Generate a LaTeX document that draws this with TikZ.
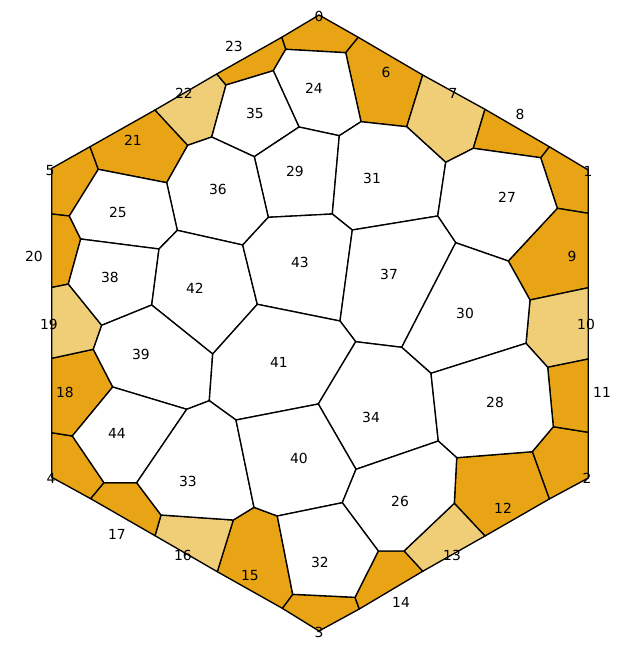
\documentclass[tikz,border=0pt]{standalone}
\usepackage{fontspec}
\setmainfont{DejaVu Sans}
\usepackage{tikz}
\definecolor{amber}{RGB}{232,164,20}
\definecolor{paleamber}{RGB}{240,206,120}

\begin{document}
\begin{tikzpicture}[x=0.75pt,y=-0.75pt,line width=1pt,line join=round,
  cell/.style={draw=black,fill=white},
  hot/.style={draw=black,fill=amber},
  warm/.style={draw=black,fill=paleamber},
  num/.style={font=\fontsize{10.4}{12}\selectfont,inner sep=0pt}]
	\useasboundingbox (0,0) rectangle (640,650);
	% boundary cells
	\filldraw[hot] (281.7,37.3) -- (319,15) -- (358.3,37.3) -- (345.7,52.7) -- (285.7,49.3) -- cycle;
	\filldraw[hot] (549.3,146.7) -- (588.3,170) -- (588.3,213.3) -- (557.3,208.3) -- (540.7,157.7) -- cycle;
	\filldraw[hot] (553.3,426.7) -- (588.3,432.3) -- (588.3,478) -- (549.3,499) -- (532.3,451.7) -- cycle;
	\filldraw[hot] (292.7,594.3) -- (355,597.3) -- (359.3,609) -- (319,631) -- (282.3,608.3) -- cycle;
	\filldraw[hot] (51.7,432.7) -- (72.3,436) -- (104,482.7) -- (90.7,498.7) -- (51.7,477.3) -- cycle;
	\filldraw[hot] (51.7,168.3) -- (90,146.7) -- (98.3,169.3) -- (69.3,216) -- (51.7,214) -- cycle;
	\filldraw[hot] (358.3,37.3) -- (422.7,75) -- (406.7,126.7) -- (361,121.7) -- (345.7,52.7) -- cycle;
	\filldraw[warm] (422.7,75) -- (485,109.3) -- (473.3,148.3) -- (445.7,162.3) -- (406.7,126.7) -- cycle;
	\filldraw[hot] (485,109.3) -- (549.3,146.7) -- (540.7,157.7) -- (473.3,148.3) -- cycle;
	\filldraw[hot] (557.3,208.3) -- (588.3,213.3) -- (588.3,287.7) -- (530,300) -- (508.3,261) -- cycle;
	\filldraw[warm] (530,300) -- (588.3,287.7) -- (588.3,359) -- (547.7,367.3) -- (526,343.3) -- cycle;
	\filldraw[hot] (547.7,367.3) -- (588.3,359) -- (588.3,432.3) -- (553.3,426.7) -- cycle;
	\filldraw[hot] (456.7,457.7) -- (532.3,451.7) -- (549.3,499) -- (485,536) -- (454.3,503.3) -- cycle;
	\filldraw[warm] (454.3,503.3) -- (485,536) -- (422.7,571.3) -- (404,551) -- cycle;
	\filldraw[hot] (378.3,551) -- (404,551) -- (422.7,571.3) -- (359.3,609) -- (355,597.3) -- cycle;
	\filldraw[hot] (233.3,520) -- (254,507.3) -- (277.3,516) -- (292.7,594.3) -- (282.3,608.3) -- (217.3,571.7) -- cycle;
	\filldraw[warm] (161,515) -- (233.3,520) -- (217.3,571.7) -- (155,535.7) -- cycle;
	\filldraw[hot] (104,482.7) -- (136.7,482.7) -- (161,515) -- (155,535.7) -- (90.7,498.7) -- cycle;
	\filldraw[hot] (51.7,358.3) -- (93.3,349.3) -- (112.7,387) -- (72.3,436) -- (51.7,432.7) -- cycle;
	\filldraw[warm] (51.7,287.3) -- (68.3,284) -- (101.7,325.3) -- (93.3,349.3) -- (51.7,358.3) -- cycle;
	\filldraw[hot] (51.7,214) -- (69.3,216) -- (80.7,239) -- (68.3,284) -- (51.7,287.3) -- cycle;
	\filldraw[hot] (90,146.7) -- (155,110) -- (187.7,145.3) -- (166.7,182.7) -- (98.3,169.3) -- cycle;
	\filldraw[warm] (155,110) -- (216.7,74) -- (226,85) -- (211.7,137) -- (187.7,145.3) -- cycle;
	\filldraw[hot] (216.7,74) -- (281.7,37.3) -- (285.7,49.3) -- (273.3,70.7) -- (226,85) -- cycle;
	% inner cells
	\filldraw[cell] (285.7,49.3) -- (345.7,52.7) -- (361,121.7) -- (339.3,135.7) -- (299,127) -- (273.3,70.7) -- cycle;
	\filldraw[cell] (226,85) -- (273.3,70.7) -- (299,127) -- (254.3,156.7) -- (211.7,137) -- cycle;
	\filldraw[cell] (254.3,156.7) -- (299,127) -- (339.3,135.7) -- (332.3,214) -- (268.3,217.3) -- cycle;
	\filldraw[cell] (187.7,145.3) -- (211.7,137) -- (254.3,156.7) -- (268.3,217.3) -- (242.7,245) -- (177.3,230.3) -- (166.7,182.7) -- cycle;
	\filldraw[cell] (339.3,135.7) -- (361,121.7) -- (406.7,126.7) -- (445.7,162.3) -- (437.7,216) -- (352.3,230) -- (332.3,214) -- cycle;
	\filldraw[cell] (445.7,162.3) -- (473.3,148.3) -- (540.7,157.7) -- (557.3,208.3) -- (508.3,261) -- (455.7,242.7) -- (437.7,216) -- cycle;
	\filldraw[cell] (98.3,169.3) -- (166.7,182.7) -- (177.3,230.3) -- (159,249) -- (80.7,239) -- (69.3,216) -- cycle;
	\filldraw[cell] (80.7,239) -- (159,249) -- (151.7,305) -- (101.7,325.3) -- (68.3,284) -- cycle;
	\filldraw[cell] (159,249) -- (177.3,230.3) -- (242.7,245) -- (257.3,304.3) -- (212.7,354) -- (151.7,305) -- cycle;
	\filldraw[cell] (242.7,245) -- (268.3,217.3) -- (332.3,214) -- (352.3,230) -- (340,321) -- (257.3,304.3) -- cycle;
	\filldraw[cell] (352.3,230) -- (437.7,216) -- (455.7,242.7) -- (401.7,347.3) -- (355.7,341.7) -- (340,321) -- cycle;
	\filldraw[cell] (455.7,242.7) -- (508.3,261) -- (530,300) -- (526,343.3) -- (431,373.3) -- (401.7,347.3) -- cycle;
	\filldraw[cell] (101.7,325.3) -- (151.7,305) -- (212.7,354) -- (209.3,400.7) -- (186.7,409.3) -- (112.7,387) -- (93.3,349.3) -- cycle;
	\filldraw[cell] (257.3,304.3) -- (340,321) -- (355.7,341.7) -- (318.3,404) -- (236,420) -- (209.3,400.7) -- (212.7,354) -- cycle;
	\filldraw[cell] (355.7,341.7) -- (401.7,347.3) -- (431,373.3) -- (438.3,441) -- (356,469.3) -- (318.3,404) -- cycle;
	\filldraw[cell] (431,373.3) -- (526,343.3) -- (547.7,367.3) -- (553.3,426.7) -- (532.3,451.7) -- (456.7,457.7) -- (438.3,441) -- cycle;
	\filldraw[cell] (112.7,387) -- (186.7,409.3) -- (136.7,482.7) -- (104,482.7) -- (72.3,436) -- cycle;
	\filldraw[cell] (186.7,409.3) -- (209.3,400.7) -- (236,420) -- (254,507.3) -- (233.3,520) -- (161,515) -- (136.7,482.7) -- cycle;
	\filldraw[cell] (236,420) -- (318.3,404) -- (356,469.3) -- (342.3,502.7) -- (277.3,516) -- (254,507.3) -- cycle;
	\filldraw[cell] (356,469.3) -- (438.3,441) -- (456.7,457.7) -- (454.3,503.3) -- (404,551) -- (378.3,551) -- (342.3,502.7) -- cycle;
	\filldraw[cell] (277.3,516) -- (342.3,502.7) -- (378.3,551) -- (355,597.3) -- (292.7,594.3) -- cycle;
	% labels
	\foreach \n/\x/\y in {0/319/16, 1/588/171, 2/587/478, 3/319/632, 4/51/478, 5/50/171,
		6/386/72, 7/453/93, 8/520/114, 9/572/256, 10/586/324, 11/602/392,
		12/503/508, 13/452/555, 14/401/602, 15/250/576, 16/183/555, 17/117/534,
		18/65/392, 19/49/324, 20/34/256, 21/133/140, 22/184/93, 23/234/46,
		24/314/88, 25/118/212, 26/400/501, 27/507/197, 28/495/402, 29/295/171,
		30/465/313, 31/372/178, 32/320/562, 33/188/481, 34/371/417, 35/255/113,
		36/218/189, 37/389/274, 38/110/277, 39/141/354, 40/299/458, 41/279/362,
		42/195/288, 43/300/262, 44/117/433}
		\node[num] (site\n) at (\x,\y) {\n};
\end{tikzpicture}
\end{document}
